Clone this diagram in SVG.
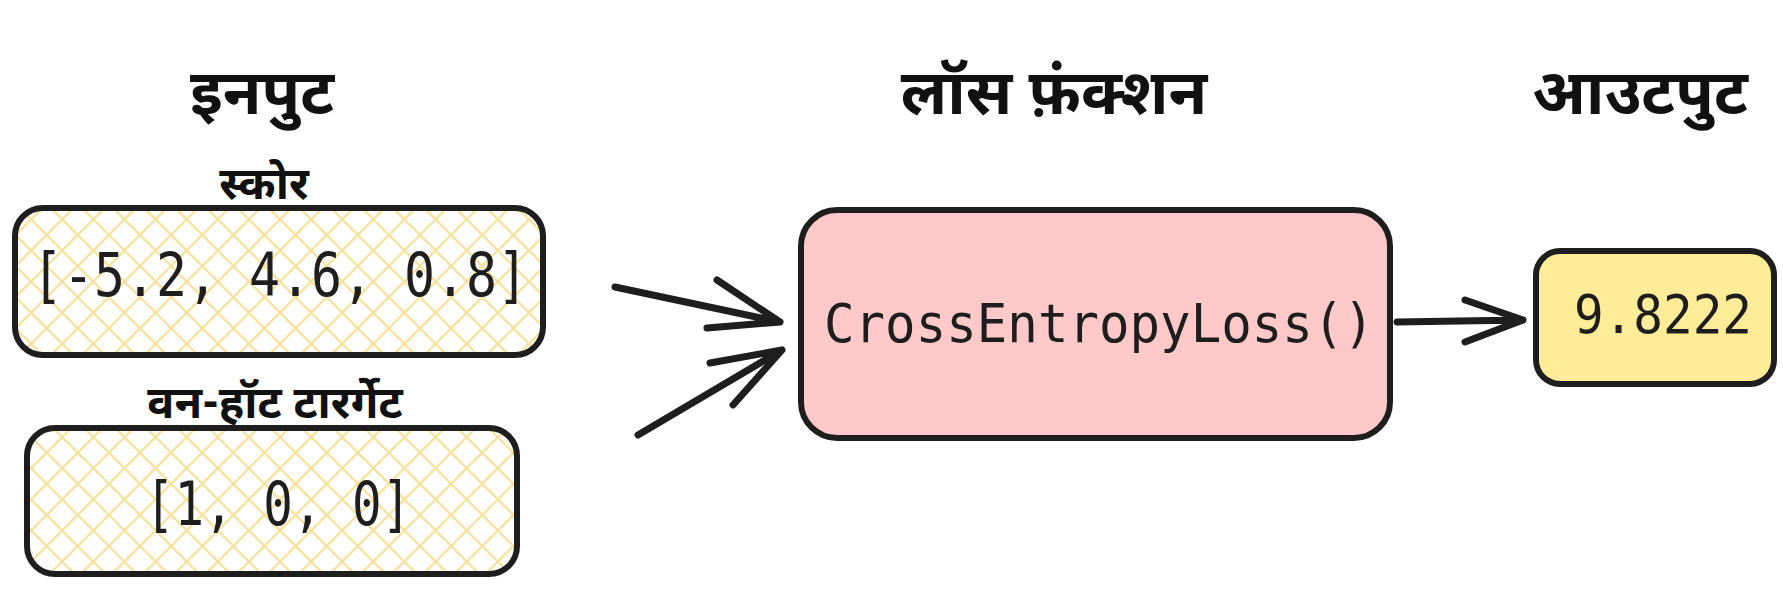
<svg xmlns="http://www.w3.org/2000/svg" width="1783" height="592" viewBox="0 0 1783 592">
<defs>
<style>
.title{font-family:"Noto Sans Devanagari","Noto Sans","DejaVu Sans",sans-serif;font-weight:bold;font-size:63px;fill:#111;text-anchor:middle}
.label{font-family:"Noto Sans Devanagari","Noto Sans","DejaVu Sans",sans-serif;font-weight:bold;font-size:45px;fill:#111;text-anchor:middle}
.mono{font-family:"DejaVu Sans Mono","Liberation Mono",monospace;fill:#1e1e1e;text-anchor:middle}
.box{stroke:#1e1e1e;stroke-width:6;stroke-linejoin:round}
.arrow{fill:none;stroke:#1e1e1e;stroke-width:7;stroke-linecap:round;stroke-linejoin:round}
</style>
<pattern id="hatch" patternUnits="userSpaceOnUse" width="22" height="22" patternTransform="rotate(45)">
<rect width="22" height="22" fill="#ffffff"/>
<line x1="0" y1="0" x2="22" y2="0" stroke="#f6e19a" stroke-width="4.5"/>
<line x1="0" y1="0" x2="0" y2="22" stroke="#f6e19a" stroke-width="4.5"/>
</pattern>
</defs>
<rect width="1783" height="592" fill="#ffffff"/>

<g id="title-input"><text class="title" x="262" y="114">इनपुट</text></g>
<g id="title-loss"><text class="title" x="1054" y="114">लॉस फ़ंक्शन</text></g>
<g id="title-output"><text class="title" x="1640" y="114">आउटपुट</text></g>

<g id="scores">
<text class="label" x="264" y="199">स्कोर</text>
<rect class="box" x="15" y="208" width="528" height="147" rx="28" fill="url(#hatch)"/>
<text class="mono" x="280" y="296" font-size="60" textLength="496" lengthAdjust="spacingAndGlyphs">[-5.2, 4.6, 0.8]</text>
</g>

<g id="target">
<text class="label" x="275" y="418">वन-हॉट टारर्गेट</text>
<rect class="box" x="27" y="428" width="490" height="146" rx="28" fill="url(#hatch)"/>
<text class="mono" x="278" y="525" font-size="60" textLength="266" lengthAdjust="spacingAndGlyphs">[1, 0, 0]</text>
</g>

<g id="loss">
<rect class="box" x="801" y="210" width="589" height="228" rx="36" fill="#ffc9c9"/>
<text class="mono" x="1099" y="342" font-size="54" textLength="550" lengthAdjust="spacingAndGlyphs">CrossEntropyLoss()</text>
</g>

<g id="output">
<rect class="box" x="1536" y="251" width="238" height="133" rx="24" fill="#ffec99"/>
<text class="mono" x="1663" y="333" font-size="54" textLength="178" lengthAdjust="spacingAndGlyphs">9.8222</text>
</g>

<g id="connectors">
<path class="arrow" d="M615 287 L780 322 M717 280 L780 322 L707 328"/>
<path class="arrow" d="M638 435 L782 350 M710 363 L782 350 L733 405"/>
<path class="arrow" d="M1397 322 L1523 320 M1465 300 L1523 320 L1465 342"/>
</g>
</svg>
